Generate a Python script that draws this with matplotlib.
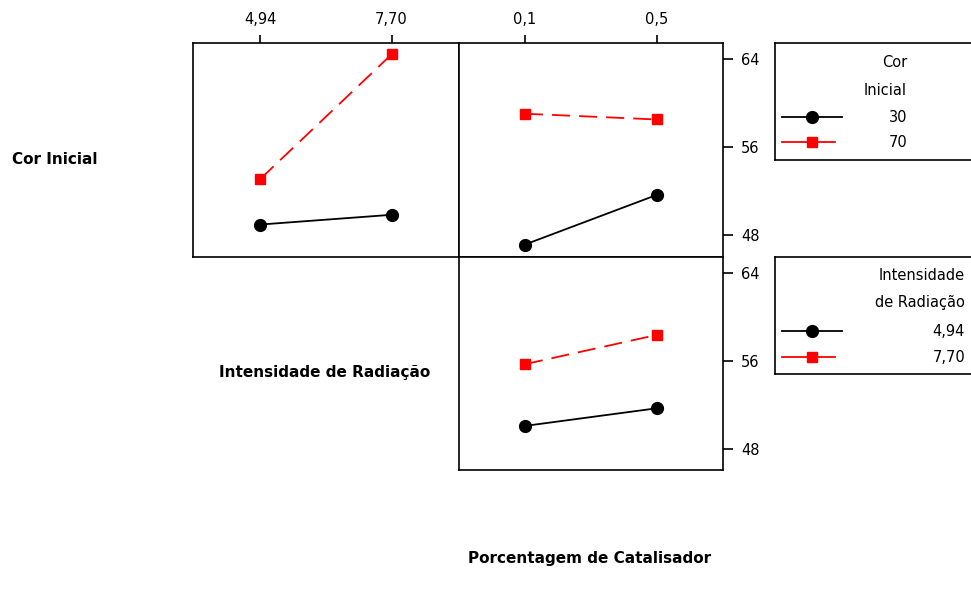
import matplotlib
matplotlib.use("Agg")
import matplotlib.pyplot as plt

W, H = 971, 597

# factor levels
cor_levels = ["30", "70"]
intensidade_levels = [4.94, 7.70]
intensidade_labels = ["4,94", "7,70"]
catalisador_levels = [0.1, 0.5]
catalisador_labels = ["0,1", "0,5"]

# interaction means
cor30_vs_int = [48.99, 49.87]
cor70_vs_int = [53.13, 64.39]
cor30_vs_cat = [47.18, 51.68]
cor70_vs_cat = [59.02, 58.50]
int494_vs_cat = [50.07, 51.68]
int770_vs_cat = [55.70, 58.37]

y_ticks = [48, 56, 64]
y_lim = (46.05, 65.47)

solid = dict(color="black", lw=1.3, marker="o", ms=8.5, mfc="black", mec="black")
dashed = dict(color="red", lw=1.3, ls=(0, (10, 5)), marker="s", ms=7.5, mfc="red", mec="red")


def box(rect):
    ax = fig.add_axes([rect[0] / W, 1 - rect[3] / H,
                       (rect[2] - rect[0]) / W, (rect[3] - rect[1]) / H])
    for s in ax.spines.values():
        s.set_linewidth(1.2)
    ax.set_ylim(*y_lim)
    ax.set_xticks([])
    ax.set_yticks([])
    return ax


def top_ticks(ax, ticks, labels):
    ax.xaxis.tick_top()
    ax.set_xticks(ticks, labels)
    ax.tick_params(axis="x", direction="out", length=6, width=1.2, pad=5, labelsize=10.5)


def right_ticks(ax):
    ax.yaxis.tick_right()
    ax.set_yticks(y_ticks)
    ax.tick_params(axis="y", direction="out", length=7, width=1.2, pad=6, labelsize=10.5)


fig = plt.figure(figsize=(W / 100, H / 100), dpi=100)

# Cor Inicial x Intensidade
ax1 = box((193, 42.5, 459, 257))
ax1.plot(intensidade_levels, cor30_vs_int, **solid)
ax1.plot(intensidade_levels, cor70_vs_int, **dashed)
rng = intensidade_levels[1] - intensidade_levels[0]
ax1.set_xlim(intensidade_levels[0] - 0.515 * rng, intensidade_levels[1] + 0.515 * rng)
top_ticks(ax1, intensidade_levels, intensidade_labels)

# Cor Inicial x Catalisador
ax2 = box((459, 42.5, 723, 257))
ax2.plot(catalisador_levels, cor30_vs_cat, **solid)
ax2.plot(catalisador_levels, cor70_vs_cat, **dashed)
rng = catalisador_levels[1] - catalisador_levels[0]
ax2.set_xlim(catalisador_levels[0] - 0.5 * rng, catalisador_levels[1] + 0.5 * rng)
top_ticks(ax2, catalisador_levels, catalisador_labels)
right_ticks(ax2)

# Intensidade x Catalisador
ax3 = box((459, 257, 723, 470))
ax3.plot(catalisador_levels, int494_vs_cat, **solid)
ax3.plot(catalisador_levels, int770_vs_cat, **dashed)
ax3.set_xlim(ax2.get_xlim())
right_ticks(ax3)


def legend_box(top):
    lax = fig.add_axes([775 / W, 1 - (top + 117) / H, 230 / W, 117 / H])
    for s in lax.spines.values():
        s.set_linewidth(1.2)
    lax.set_xlim(0, 230)
    lax.set_ylim(117, 0)
    lax.set_xticks([])
    lax.set_yticks([])
    return lax


def legend_keys(lax, y1, y2):
    lax.plot([7, 37, 67], [y1] * 3, color="black", lw=1.3, marker="o", ms=8.5, markevery=[1])
    lax.plot([7, 37, 60], [y2] * 3, color="red", lw=1.3, marker="s", ms=7.5, markevery=[1])


lax1 = legend_box(42.5)
lax1.text(132, 19.5, "Cor", ha="right", va="center", fontsize=10.5)
lax1.text(132, 47.5, "Inicial", ha="right", va="center", fontsize=10.5)
legend_keys(lax1, 74.5, 99.5)
lax1.text(132, 74.5, cor_levels[0], ha="right", va="center", fontsize=10.5)
lax1.text(132, 99.5, cor_levels[1], ha="right", va="center", fontsize=10.5)

lax2 = legend_box(256.5)
lax2.text(190, 18.5, "Intensidade", ha="right", va="center", fontsize=10.5)
lax2.text(190, 46.5, "de Radiação", ha="right", va="center", fontsize=10.5)
legend_keys(lax2, 74.5, 100.5)
lax2.text(190, 74.5, intensidade_labels[0], ha="right", va="center", fontsize=10.5)
lax2.text(190, 100.5, intensidade_labels[1], ha="right", va="center", fontsize=10.5)

# factor names
fig.text(12 / W, 1 - 160 / H, "Cor Inicial", ha="left", va="center",
         fontsize=11, fontweight="bold")
fig.text(325 / W, 1 - 373 / H, "Intensidade de Radiação", ha="center", va="center",
         fontsize=11, fontweight="bold")
fig.text(590 / W, 1 - 558 / H, "Porcentagem de Catalisador", ha="center", va="center",
         fontsize=11, fontweight="bold")

fig.savefig("out.png", dpi=100)
